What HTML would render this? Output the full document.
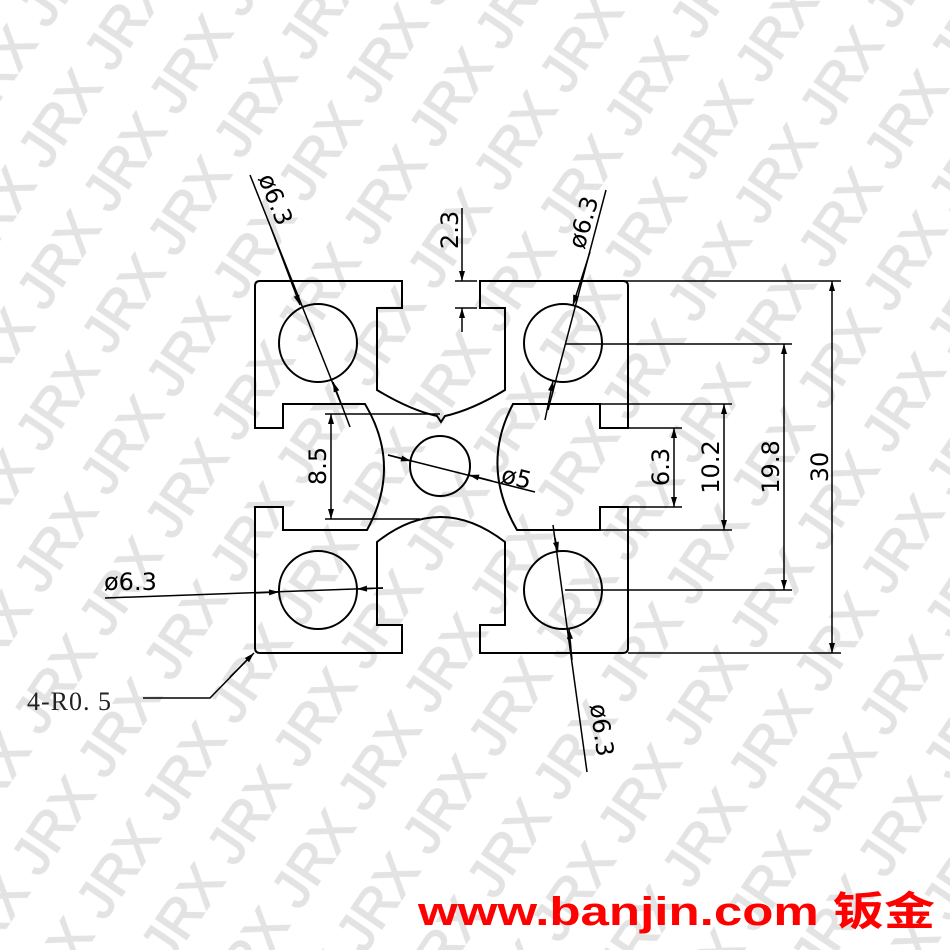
<!DOCTYPE html>
<html><head><meta charset="utf-8"><style>html,body{margin:0;padding:0;background:#fff}svg{display:block}</style></head>
<body>
<svg width="950" height="950" viewBox="0 0 950 950" xmlns="http://www.w3.org/2000/svg">
<defs>
<pattern id="wm" width="118" height="78" patternUnits="userSpaceOnUse" patternTransform="rotate(-56)">
<text x="2" y="56" font-family="Liberation Sans, sans-serif" font-size="54" fill="#e3e3e3" stroke="#e3e3e3" stroke-width="1.5">JRX</text>
</pattern>
<marker id="a" viewBox="0 0 10 6" refX="10" refY="3" markerWidth="11" markerHeight="6" markerUnits="userSpaceOnUse" orient="auto-start-reverse"><path d="M0,0 L10,3 L0,6z" fill="#000"/></marker>
</defs>
<rect width="950" height="950" fill="url(#wm)"/>
<g fill="none" stroke="#000" stroke-width="2">
<path d="M260,281 L402,281 L402,308 L377,308 L377,390 Q410,410 437,416 L441,422 L445,416 Q472,410 505,390 L505,308 L480,308 L480,281 L623,281 Q628,281 628,286 L628,428 L600,428 L600,404 L513,404 Q480,466 517,530 L600,530 L600,507 L628,507 L628,648 Q628,653 623,653 L480,653 L480,625 L505,625 L505,542 Q440,492 377,542 L377,625 L402,625 L402,653 L260,653 Q255,653 255,648 L255,507 L283,507 L283,530 L367,530 Q402,466 365,404 L283,404 L283,428 L255,428 L255,286 Q255,281 260,281 Z"/>
<circle cx="318" cy="343" r="39"/><circle cx="563" cy="343" r="39"/>
<circle cx="318" cy="590" r="39"/><circle cx="563" cy="590" r="39"/>
<circle cx="440" cy="466" r="30"/>
</g>
<g fill="none" stroke="#000" stroke-width="1.5">
<line x1="480" y1="281" x2="841" y2="281"/><line x1="628" y1="653" x2="841" y2="653"/>
<line x1="832" y1="281" x2="832" y2="653" marker-start="url(#a)" marker-end="url(#a)"/>
<line x1="565" y1="344" x2="792" y2="344"/><line x1="565" y1="590" x2="792" y2="590"/>
<line x1="784" y1="344" x2="784" y2="590" marker-start="url(#a)" marker-end="url(#a)"/>
<line x1="600" y1="404" x2="732" y2="404"/><line x1="600" y1="530" x2="732" y2="530"/>
<line x1="724" y1="404" x2="724" y2="530" marker-start="url(#a)" marker-end="url(#a)"/>
<line x1="628" y1="428" x2="682" y2="428"/><line x1="628" y1="507" x2="682" y2="507"/>
<line x1="674" y1="428" x2="674" y2="507" marker-start="url(#a)" marker-end="url(#a)"/>
<line x1="455" y1="281" x2="477" y2="281"/><line x1="455" y1="308" x2="477" y2="308"/>
<line x1="462" y1="208" x2="462" y2="281" marker-end="url(#a)"/>
<line x1="462" y1="332" x2="462" y2="308" marker-end="url(#a)"/>
<line x1="325" y1="414" x2="440" y2="414"/><line x1="325" y1="519" x2="420" y2="519"/>
<line x1="331" y1="414" x2="331" y2="519" marker-start="url(#a)" marker-end="url(#a)"/>
<line x1="250" y1="175" x2="341" y2="404"/>
<line x1="271" y1="228" x2="300" y2="305" marker-end="url(#a)"/>
<line x1="350" y1="427" x2="333" y2="382" marker-end="url(#a)"/>
<line x1="606" y1="190" x2="548" y2="410"/>
<line x1="590" y1="252" x2="573" y2="305" marker-end="url(#a)"/>
<line x1="545" y1="420" x2="553" y2="381" marker-end="url(#a)"/>
<line x1="105" y1="598" x2="383" y2="588"/>
<line x1="255" y1="593" x2="279" y2="592" marker-end="url(#a)"/>
<line x1="383" y1="588" x2="357" y2="589" marker-end="url(#a)"/>
<line x1="553" y1="525" x2="587" y2="772"/>
<line x1="555" y1="538" x2="558" y2="552" marker-end="url(#a)"/>
<line x1="572" y1="660" x2="569" y2="629" marker-end="url(#a)"/>
<line x1="388" y1="455" x2="535" y2="492"/>
<line x1="388" y1="455" x2="411" y2="461" marker-end="url(#a)"/>
<line x1="492" y1="481" x2="469" y2="475" marker-end="url(#a)"/>
<polyline points="143,698 210,698 252,655"/>
<line x1="230" y1="677" x2="254" y2="653" marker-end="url(#a)"/>
</g>
<g font-family="DejaVu Sans, sans-serif" font-size="24" fill="#000">
<text transform="translate(828,467) rotate(-90)" text-anchor="middle">30</text>
<text transform="translate(779,467) rotate(-90)" text-anchor="middle">19.8</text>
<text transform="translate(719,467) rotate(-90)" text-anchor="middle">10.2</text>
<text transform="translate(669,467) rotate(-90)" text-anchor="middle">6.3</text>
<text transform="translate(326,466) rotate(-90)" text-anchor="middle">8.5</text>
<text transform="translate(458,230) rotate(-90)" text-anchor="middle">2.3</text>
<text transform="translate(258,178) rotate(68)">ø6.3</text>
<text transform="translate(584,250) rotate(-74)">ø6.3</text>
<text x="104" y="590">ø6.3</text>
<text transform="translate(590,705) rotate(82)">ø6.3</text>
<text transform="translate(500,482) rotate(14)">ø5</text>
</g>
<text x="27" y="710" font-family="Liberation Serif, serif" font-size="26" fill="#222" letter-spacing="1">4-R0. 5</text>
<text x="418" y="925" font-family="Liberation Sans, 'Noto Sans CJK SC', sans-serif" font-weight="bold" font-size="40" fill="#f00" textLength="517" lengthAdjust="spacingAndGlyphs">www.banjin.com 钣金</text>
</svg>
</body></html>
